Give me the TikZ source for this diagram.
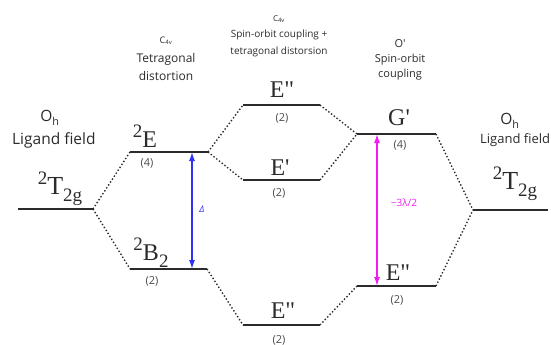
\documentclass[tikz,border=0pt]{standalone}
\usepackage{fontspec}
\setmainfont[Ligatures=TeXOff]{Open Sans}
\newfontfamily\lvlfont[Ligatures=TeXOff]{Liberation Serif}
\usepackage{xcolor}
\definecolor{ink}{HTML}{2B2B2B}
\definecolor{gapblue}{HTML}{2F2FF5}
\definecolor{somag}{HTML}{F21CF2}
\usetikzlibrary{arrows.meta}
\newcommand{\upidx}[1]{\raisebox{9.5pt}{\fontsize{19}{19}\selectfont #1}}
\newcommand{\dnidx}[1]{\raisebox{-7pt}{\fontsize{19}{19}\selectfont #1}}

\begin{document}
\begin{tikzpicture}[x=1pt, y=-1pt, font=\fontsize{11}{13}\selectfont,
		lvl/.style={ink, line width=1.6pt},
		link/.style={ink, line width=1.4pt, dash pattern=on 1.4pt off 2.1pt},
		state/.style={font=\lvlfont\fontsize{24}{24}\selectfont, anchor=base, inner sep=0pt, text=ink},
		deg/.style={font=\fontsize{11}{11}\selectfont, inner sep=0pt, text=ink!85},
		head/.style={align=center, inner sep=0pt, text=ink},
		gap/.style={line width=1.4pt, {Latex[length=9pt,width=6pt]}-{Latex[length=9pt,width=6pt]}}]

	\useasboundingbox (0,0) rectangle (551,345);

	% Energy levels (name/left/right/height)
	\foreach \n/\xa/\xb/\y in {tl/18/93/209, e/130/208/152, b/130/207/269,
			et/243/320/105, em/243/320/180, eb/243/320/325,
			g/357/436/134, ed/357/436/286, tr/473/548/210}{
		\coordinate (\n-w) at (\xa,\y);
		\coordinate (\n-e) at (\xb,\y);
		\draw[lvl] (\n-w) -- (\n-e);
	}

	% Correlation lines
	\foreach \a/\b in {tl/e, tl/b, e/et, e/em, b/eb, et/g, em/g, eb/ed, g/tr, ed/tr}{
		\draw[link] (\a-e) -- (\b-w);
	}

	% Term symbols
	\node[state, font=\lvlfont\fontsize{26}{26}\selectfont] (t-l) at (60,194) {\upidx{2}T\dnidx{2g}};
	\node[state] (lab-e) at (145,147) {\upidx{2}E};
	\node[state] (lab-b) at (151,260) {\upidx{2}B\dnidx{2}};
	\node[state] (lab-et) at (282,97) {E"};
	\node[state] (lab-em) at (280,175) {E'};
	\node[state] (lab-eb) at (283,318) {E"};
	\node[state] (lab-g) at (399,125) {G'};
	\node[state] (lab-ed) at (398,280) {E"};
	\node[state, font=\lvlfont\fontsize{26}{26}\selectfont] (t-r) at (515,189) {\upidx{2}T\dnidx{2g}};

	% Degeneracies
	\foreach \p/\d [count=\i] in {{(147,163)}/4, {(152,281)}/2, {(282,118)}/2, {(279,193)}/2,
			{(279,340)}/2, {(400,145)}/4, {(397,300)}/2}{
		\node[deg] (deg\i) at \p {(\d)};
	}

	% Column headings
	\node[head, font=\fontsize{15.5}{20}\selectfont] (oh-l) at (50,118) {O\textsubscript{h}};
	\node[head, font=\fontsize{15.5}{20}\selectfont, anchor=west] (lf-l) at (12,140) {Ligand field};
	\node[head, font=\fontsize{12}{18.5}\selectfont] (c4v-t) at (166,59)
		{{\fontsize{9}{9}\selectfont C\textsubscript{4v}}\\Tetragonal\\distortion};
	\node[head, font=\fontsize{10}{16.5}\selectfont] (c4v-so) at (279,36)
		{{\fontsize{8}{8}\selectfont C\textsubscript{4v}}\\Spin-orbit coupling +\\tetragonal distorsion};
	\node[head, font=\fontsize{11}{15}\selectfont] (op-so) at (400,59.5)
		{O'\\Spin-orbit\\coupling};
	\node[head, font=\fontsize{15.5}{20}\selectfont] (oh-r) at (510,121) {O\textsubscript{h}};
	\node[head, font=\fontsize{13}{17}\selectfont, anchor=west] (lf-r) at (480,140) {Ligand field};

	% Splittings
	\coordinate (d-up) at (192,152);
	\coordinate (d-dn) at (192,269);
	\draw[gap, gapblue] (d-up) -- (d-dn);
	\node[gapblue, font=\fontsize{9}{9}\selectfont\itshape, inner sep=0pt] (delta) at (202,209) {Δ};

	\coordinate (l-up) at (377,134);
	\coordinate (l-dn) at (377,286);
	\draw[gap, somag] (l-up) -- (l-dn);
	\node[somag, font=\fontsize{10}{10}\selectfont, inner sep=0pt] (lambda) at (404,203) {−3λ/2};
\end{tikzpicture}
\end{document}
